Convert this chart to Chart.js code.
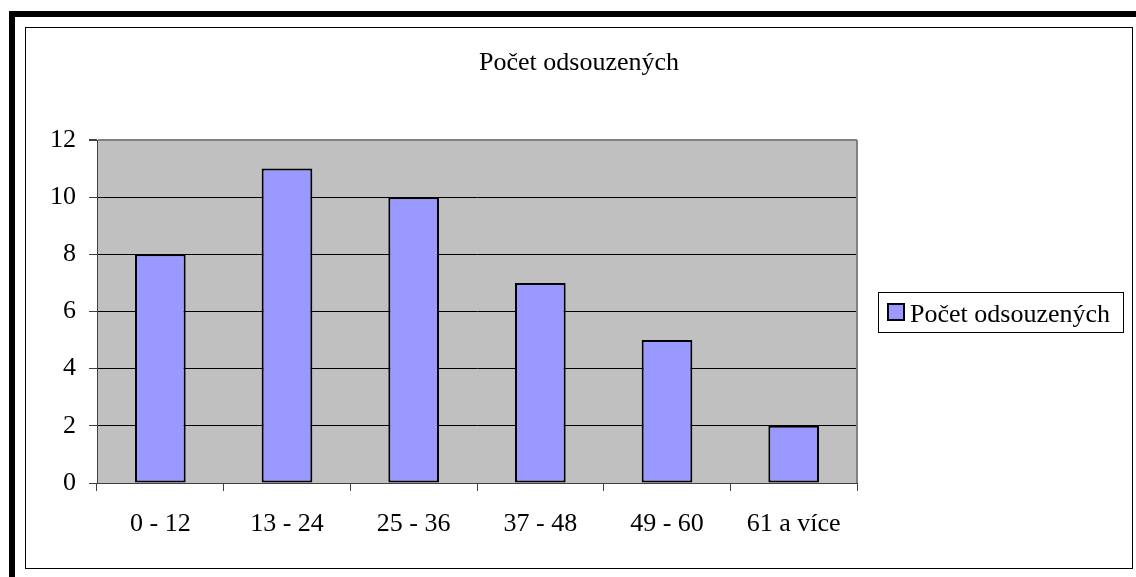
<!DOCTYPE html>
<html>
<head>
<meta charset="utf-8">
<script src="https://cdn.jsdelivr.net/npm/chart.js@4"></script>
<style>
  html, body { margin: 0; padding: 0; background: #fff; }
  #wrap { position: absolute; left: 0; top: 0; width: 1136px; height: 577px; }
</style>
</head>
<body>
<div id="wrap"><canvas id="c" width="1136" height="577"></canvas></div>
<script>
const chartTitle = "Počet odsouzených";
const seriesName = "Počet odsouzených";
const categories = ["0 - 12", "13 - 24", "25 - 36", "37 - 48", "49 - 60", "61 a více"];
const values = [8, 11, 10, 7, 5, 2];
const yTicks = [0, 2, 4, 6, 8, 10, 12];

const FONT = "'Liberation Serif', 'Times New Roman', serif";

const framePlugin = {
  id: 'frame',
  beforeDraw(chart) {
    const ctx = chart.ctx;
    const a = chart.chartArea;
    ctx.save();
    ctx.fillStyle = '#fff';
    ctx.fillRect(0, 0, chart.width, chart.height);
    // outer thick black frame (top & left)
    ctx.fillStyle = '#000';
    ctx.fillRect(9, 11, chart.width - 9, 6);
    ctx.fillRect(9, 11, 6, chart.height - 11);
    // inner thin frame
    ctx.strokeStyle = '#000';
    ctx.lineWidth = 1;
    ctx.strokeRect(25.5, 27.5, 1107, 541);
    // title, centred on the inner frame
    ctx.fillStyle = '#000';
    ctx.font = '26px ' + FONT;
    ctx.textAlign = 'center';
    ctx.textBaseline = 'middle';
    ctx.fillText(chart.options.plugins.title.text, 579, 63);
    // plot background
    ctx.fillStyle = '#C0C0C0';
    ctx.fillRect(a.left, a.top, a.right - a.left, a.bottom - a.top);
    ctx.restore();
  },
  afterDraw(chart) {
    const ctx = chart.ctx;
    const a = chart.chartArea;
    ctx.save();
    // right plot border
    ctx.strokeStyle = '#808080';
    ctx.lineWidth = 2;
    ctx.beginPath();
    ctx.moveTo(a.right, a.top);
    ctx.lineTo(a.right, a.bottom);
    ctx.stroke();
    // legend
    const ds = chart.data.datasets[0];
    ctx.fillStyle = '#fff';
    ctx.fillRect(878, 292, 246, 40);
    ctx.strokeStyle = '#000';
    ctx.lineWidth = 1;
    ctx.strokeRect(878.5, 292.5, 245, 40);
    ctx.fillStyle = ds.backgroundColor;
    ctx.fillRect(888, 304, 16, 16);
    ctx.lineWidth = 2;
    ctx.strokeRect(888, 304, 16, 16);
    ctx.fillStyle = '#000';
    ctx.font = '26px ' + FONT;
    ctx.textBaseline = 'alphabetic';
    ctx.textAlign = 'left';
    ctx.fillText(ds.label, 910, 322);
    ctx.restore();
  }
};

new Chart(document.getElementById('c'), {
  type: 'bar',
  data: {
    labels: categories,
    datasets: [{
      label: seriesName,
      data: values,
      backgroundColor: '#9999FF',
      borderColor: '#000',
      borderWidth: 2,
      borderSkipped: false,
      barPercentage: 0.4,
      categoryPercentage: 1.0
    }]
  },
  options: {
    responsive: false,
    animation: false,
    devicePixelRatio: 1,
    layout: { padding: { left: 0, right: 279, top: 140, bottom: 0 } },
    plugins: {
      legend: { display: false },
      tooltip: { enabled: false },
      title: { display: false, text: chartTitle }
    },
    scales: {
      x: {
        offset: true,
        grid: {
          offset: true,
          drawOnChartArea: false,
          drawTicks: true,
          tickLength: 8,
          tickColor: '#404040'
        },
        border: { display: true, color: '#404040', width: 1 },
        ticks: {
          color: '#000',
          font: { family: FONT, size: 26 },
          padding: 18,
          maxRotation: 0,
          autoSkip: false
        },
        afterFit(scale) { scale.height = 94; }
      },
      y: {
        min: 0,
        max: 12,
        afterBuildTicks(scale) { scale.ticks = yTicks.map(v => ({ value: v })); },
        grid: {
          color: (c) => (c.tick && c.tick.value === 12) ? '#808080' : '#000',
          lineWidth: (c) => (c.tick && c.tick.value === 12) ? 2 : 1,
          drawTicks: true,
          tickLength: 8,
          tickColor: '#404040'
        },
        border: { display: true, color: '#404040', width: 1 },
        ticks: {
          color: '#000',
          font: { family: FONT, size: 26 },
          padding: 13
        },
        afterFit(scale) { scale.width = 97; }
      }
    }
  },
  plugins: [framePlugin]
});
</script>
</body>
</html>
